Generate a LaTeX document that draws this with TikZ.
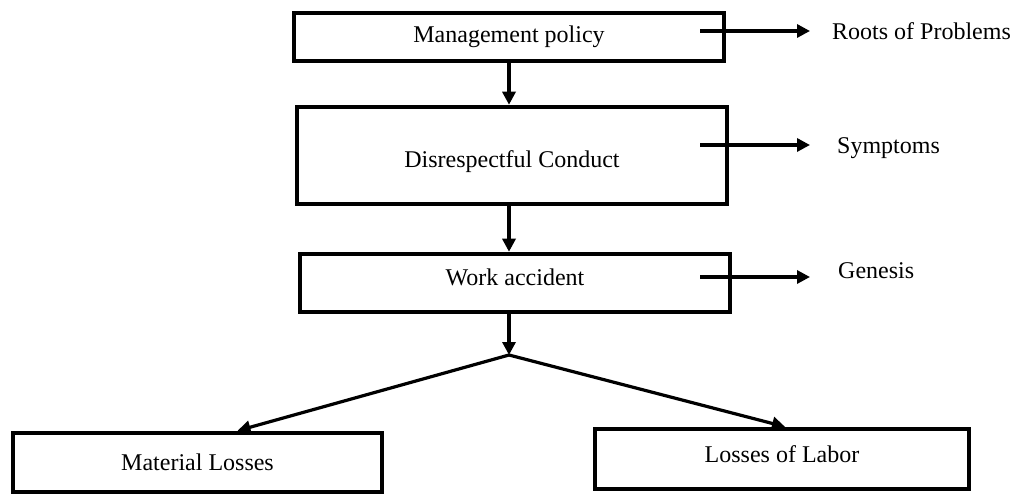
\documentclass[tikz,border=0pt]{standalone}
\usepackage{fontspec}
\setmainfont{Liberation Serif}
\usetikzlibrary{arrows.meta}
\begin{document}
\begin{tikzpicture}[x=1pt,y=-1pt,
  box/.style={draw=black,line width=4.5pt,rectangle,inner sep=0pt,
    font=\fontsize{24}{28}\selectfont,text height=16pt},
  lbl/.style={anchor=base west,inner sep=0pt,font=\fontsize{24}{28}\selectfont},
  arr/.style={line width=3.2pt,-{Triangle[length=13pt,width=13pt]}}]
\useasboundingbox (0,0) rectangle (1011,494);
\node[box,minimum width=430pt,minimum height=48pt,text depth=4pt] (mp) at (509,37) {Management policy};
\node[box,minimum width=430pt,minimum height=97pt,text height=25pt,text depth=0pt] (dc) at (512,155.5) {Disrespectful Conduct};
\node[box,minimum width=430pt,minimum height=58pt,text depth=12pt] (wa) at (515,283) {Work accident};
\node[box,minimum width=369pt,minimum height=59pt,text depth=1pt] (ml) at (197.5,462.5) {Material Losses};
\node[box,minimum width=374pt,minimum height=60pt,text depth=10pt] (ll) at (782,459) {Losses of Labor};
\node[lbl] (roots) at (832,40) {Roots of Problems};
\node[lbl] (symp) at (837,154) {Symptoms};
\node[lbl] (gen) at (838,278) {Genesis};
\coordinate (s1) at (700,31);
\coordinate (s2) at (700,145);
\coordinate (s3) at (700,277);
\coordinate (br) at (509,355);
\draw[arr] (s1) -- ([xshift=-22pt]roots.west |- s1);
\draw[arr] (s2) -- ([xshift=-27pt]symp.west |- s2);
\draw[arr] (s3) -- ([xshift=-28pt]gen.west |- s3);
\draw[arr] (mp.south) -- (mp.south |- dc.north);
\draw[arr] ([yshift=2pt]dc.south -| mp.south) -- (mp.south |- wa.north);
\draw[arr] ([yshift=2pt]br |- wa.south) -- (br);
\draw[arr] (br) -- ([xshift=40pt]ml.north);
\draw[arr] (br) -- ([xshift=3pt]ll.north);
\end{tikzpicture}
\end{document}
